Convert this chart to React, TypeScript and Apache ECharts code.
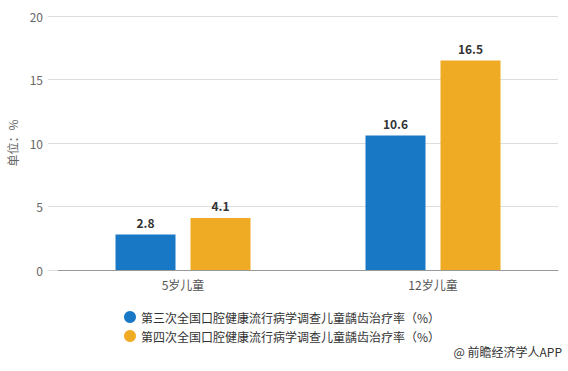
import React, { useEffect, useRef } from "react";
import * as echarts from "echarts";

const categories = ["5岁儿童", "12岁儿童"];
const seriesNames = [
  "第三次全国口腔健康流行病学调查儿童龋齿治疗率（%）",
  "第四次全国口腔健康流行病学调查儿童龋齿治疗率（%）",
];
const thirdSurvey = [2.8, 10.6];
const fourthSurvey = [4.1, 16.5];
const yTicks = [0, 5, 10, 15, 20];
const sourceText = "@ 前瞻经济学人APP";

export default function App() {
  const ref = useRef<HTMLDivElement>(null);
  useEffect(() => {
    if (!ref.current) return;
    const chart = echarts.init(ref.current, null, { renderer: "svg" });
    const font = "'Microsoft YaHei', 'Noto Sans CJK SC', sans-serif";
    const labelStyle = {
      show: true,
      position: "top",
      distance: 6,
      fontWeight: "bold",
      fontSize: 12,
      color: "#333",
      fontFamily: font,
    };
    chart.setOption({
      animation: false,
      textStyle: { fontFamily: font },
      grid: { left: 58, right: 10, top: 16, bottom: 101, outerBoundsMode: "none", containLabel: false },
      legend: {
        orient: "vertical",
        left: 119,
        top: 306,
        icon: "circle",
        itemWidth: 12,
        itemHeight: 12,
        itemGap: 7,
        textStyle: { color: "#333", fontSize: 12, fontFamily: font },
        data: seriesNames,
      },
      xAxis: {
        type: "category",
        data: categories,
        axisLine: { lineStyle: { color: "#999" } },
        axisTick: { alignWithLabel: true, length: 5, lineStyle: { color: "#999" } },
        axisLabel: { color: "#555", fontSize: 12, margin: 8, fontFamily: font },
      },
      yAxis: {
        type: "value",
        min: yTicks[0],
        max: yTicks[yTicks.length - 1],
        interval: 5,
        name: "单位：%",
        nameLocation: "middle",
        nameGap: 39,
        nameTextStyle: { color: "#666", fontSize: 12, fontFamily: font },
        axisLine: { show: false },
        axisTick: { show: true, length: 10, lineStyle: { color: "#ddd" } },
        axisLabel: { color: "#666", fontSize: 12, margin: 15, fontFamily: font },
        splitLine: { lineStyle: { color: "#ddd" } },
      },
      series: [
        {
          name: seriesNames[0],
          type: "bar",
          data: thirdSurvey,
          barWidth: 60,
          barGap: "25%",
          itemStyle: { color: "#1878c6" },
          label: labelStyle,
        },
        {
          name: seriesNames[1],
          type: "bar",
          data: fourthSurvey,
          barWidth: 60,
          itemStyle: { color: "#efab24" },
          label: labelStyle,
        },
      ],
      graphic: [
        {
          type: "text",
          right: 6,
          top: 345,
          style: { text: sourceText, fill: "#333", fontSize: 12, fontFamily: font },
        },
      ],
    });
    return () => chart.dispose();
  }, []);
  return (
    <div
      ref={ref}
      style={{ position: "absolute", left: 0, top: 0, width: 568, height: 371, background: "#fff" }}
    />
  );
}
